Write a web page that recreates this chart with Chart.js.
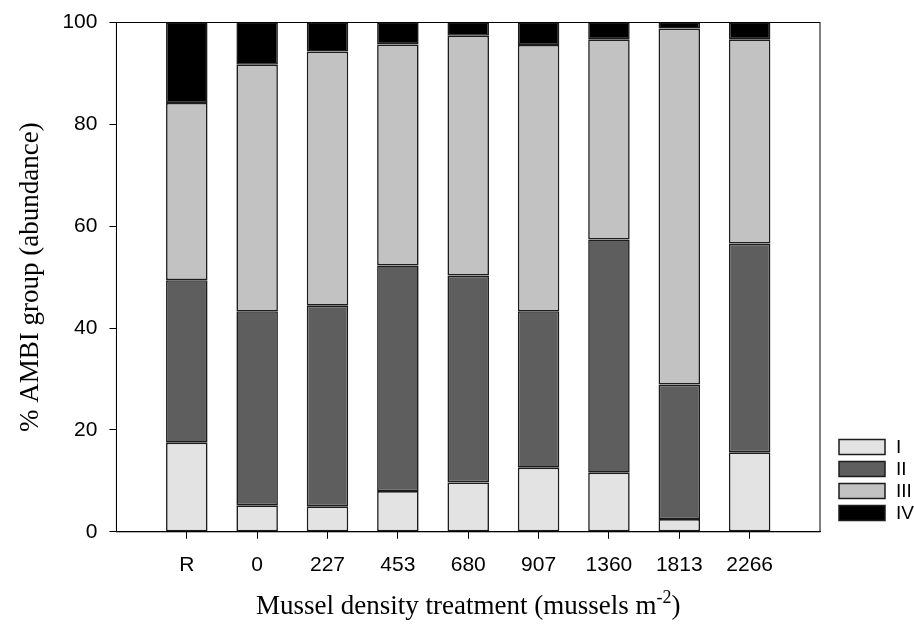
<!DOCTYPE html>
<html>
<head>
<meta charset="utf-8">
<script src="https://cdn.jsdelivr.net/npm/chart.js@4/dist/chart.umd.min.js"></script>
<style>
  html, body { margin: 0; padding: 0; background: #fff; }
  #wrap { width: 914px; height: 633px; }
</style>
</head>
<body>
<div id="wrap"><canvas id="myChart"></canvas></div>
<script>
// treatments (mussels m-2), R = reference
const categories = ['R', '0', '227', '453', '680', '907', '1360', '1813', '2266'];
// % abundance of each AMBI group
const groupI   = [17.5, 5.2, 5.0, 8.0, 9.7, 12.6, 11.6, 2.5, 15.6];
const groupII  = [31.9, 38.1, 39.4, 44.3, 40.6, 30.7, 45.8, 26.4, 41.0];
const groupIII = [34.8, 48.4, 49.9, 43.4, 47.1, 52.3, 39.3, 69.9, 40.1];
const groupIV  = [15.8, 8.3, 5.7, 4.3, 2.6, 4.4, 3.3, 1.2, 3.3];
const yTicks = [0, 20, 40, 60, 80, 100];

// empty slot on each side so the bars sit one step in from the frame
const pad = arr => [null, ...arr, null];
const labels = ['', ...categories, ''];

const serif = "'Liberation Serif', 'Times New Roman', serif";
const sans = "'Liberation Sans', Arial, sans-serif";

function ds(label, data, color) {
  return {
    label: label,
    data: pad(data),
    backgroundColor: color,
    borderColor: '#1c1c1c',
    borderWidth: 1.6,
    borderSkipped: false,
    categoryPercentage: 1,
    barPercentage: 0.59
  };
}

// box round the plot, x title with superscript, legend at lower right
const extras = {
  id: 'extras',
  afterDraw(chart) {
    const c = chart.ctx, a = chart.chartArea;
    c.save();
    c.strokeStyle = '#000';
    c.lineWidth = 1;
    c.strokeRect(a.left, a.top, a.right - a.left, a.bottom - a.top);

    // x title
    const main = 'Mussel density treatment (mussels m';
    const sup = '-2';
    const end = ')';
    c.fillStyle = '#000';
    c.textBaseline = 'alphabetic';
    c.textAlign = 'left';
    c.font = '27px ' + serif;
    const w1 = c.measureText(main).width, w3 = c.measureText(end).width;
    c.font = '18px ' + serif;
    const w2 = c.measureText(sup).width;
    let x = (a.left + a.right) / 2 - (w1 + w2 + w3) / 2;
    const y = 614;
    c.font = '27px ' + serif;
    c.fillText(main, x, y);
    x += w1;
    c.font = '18px ' + serif;
    c.fillText(sup, x, y - 11);
    x += w2;
    c.font = '27px ' + serif;
    c.fillText(end, x, y);

    // legend
    c.font = '19px ' + sans;
    c.textBaseline = 'middle';
    chart.data.datasets.forEach((d, i) => {
      const cy = 447 + i * 22;
      c.fillStyle = d.backgroundColor;
      c.fillRect(839, cy - 7.5, 46, 15);
      c.strokeStyle = '#1c1c1c';
      c.lineWidth = 1.5;
      c.strokeRect(839, cy - 7.5, 46, 15);
      c.fillStyle = '#000';
      c.fillText(d.label, 896, cy + 1);
    });
    c.restore();
  }
};

const ctx = document.getElementById('myChart');
new Chart(ctx, {
  type: 'bar',
  data: {
    labels: labels,
    datasets: [
      ds('I', groupI, '#e3e3e3'),
      ds('II', groupII, '#5e5e5e'),
      ds('III', groupIII, '#c2c2c2'),
      ds('IV', groupIV, '#000000')
    ]
  },
  options: {
    responsive: true,
    maintainAspectRatio: false,
    animation: false,
    layout: { padding: { top: 22, right: 94, bottom: 41, left: 4 } },
    plugins: {
      legend: { display: false },
      tooltip: { enabled: false }
    },
    scales: {
      x: {
        stacked: true,
        offset: false,
        grid: {
          offset: false,
          drawOnChartArea: false,
          tickLength: 7,
          tickColor: c => (c.tick && c.tick.label === '') ? 'rgba(0,0,0,0)' : '#000'
        },
        border: { display: true, color: '#000', width: 1 },
        ticks: {
          color: '#000',
          padding: 14,
          maxRotation: 0,
          autoSkip: false,
          font: { family: sans, size: 21 }
        }
      },
      y: {
        stacked: true,
        min: 0,
        max: 100,
        afterBuildTicks: s => { s.ticks = yTicks.map(v => ({ value: v })); },
        grid: { drawOnChartArea: false, tickLength: 7, color: '#000' },
        border: { display: true, color: '#000', width: 1 },
        ticks: {
          color: '#000',
          padding: 12,
          font: { family: sans, size: 21, lineHeight: 1 }
        },
        title: {
          display: true,
          text: '% AMBI group (abundance)',
          color: '#000',
          padding: { top: 11, bottom: 3 },
          font: { family: serif, size: 27 }
        }
      }
    }
  },
  plugins: [extras]
});
</script>
</body>
</html>
